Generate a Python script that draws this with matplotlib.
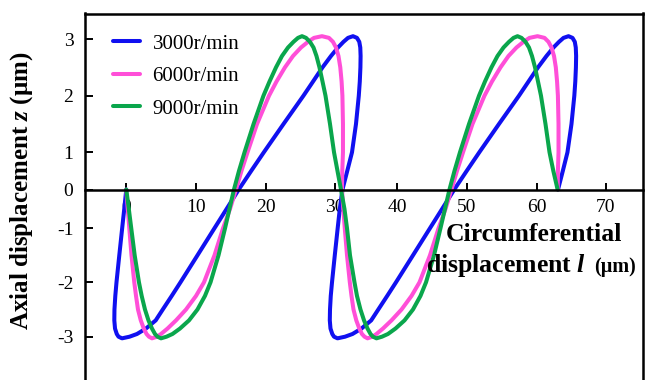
import numpy as np
import matplotlib
matplotlib.use("Agg")
import matplotlib.pyplot as plt

plt.rcParams['font.family'] = ['Liberation Serif', 'DejaVu Serif']
plt.rcParams['mathtext.fontset'] = 'custom'
plt.rcParams['mathtext.it'] = 'Liberation Serif:italic:bold'
plt.rcParams['mathtext.rm'] = 'Liberation Serif:bold'

# axial displacement z (um), shared sampling levels along each path
z_path = [0, -0.5, -1, -1.5, -2, -2.25, -2.5, -2.7, -2.85, -2.95, -3.0, -3.03,
          -3.0, -2.95, -2.85, -2.7, -2.5, -2.25, -2, -1.5, -1, -0.5,
          0, 0.5, 1, 1.5, 2, 2.25, 2.5, 2.7, 2.85, 2.95, 3.02, 3.05,
          3.02, 2.95, 2.85, 2.7, 2.5, 2.25, 2, 1.5, 1, 0.5, 0,
          -0.5, -1, -1.5, -2, -2.25, -2.5, -2.7, -2.85, -2.95, -3.0, -3.03,
          -3.0, -2.95, -2.85, -2.7, -2.5, -2.25, -2, -1.5, -1, -0.5,
          0, 0.5, 1, 1.5, 2, 2.25, 2.5, 2.7, 2.85, 2.95, 3.02, 3.05,
          3.02, 2.95, 2.85, 2.7, 2.5, 2.25, 2, 1.5, 1, 0.5, 0]

# circumferential displacement l (um) for each speed
l_3000 = [0, -0.29, -0.59, -1.0, -1.4, -1.57, -1.69, -1.71, -1.61, -1.36, -1.11, -0.61,
          0.46, 1.53, 2.81, 4.2, 5.21, 6.49, 7.74, 10.17, 12.61, 14.37,
          16.12, 17.91, 19.73, 22.57, 25.45, 26.83, 28.2, 29.42, 30.48, 31.36, 32.09, 32.89,
          33.53, 33.9, 34.06, 34.11, 34.08, 33.98, 33.82, 33.37, 32.73, 31.97, 31.2,
          30.77, 30.43, 29.97, 29.57, 29.39, 29.28, 29.25, 29.35, 29.61, 29.86, 30.4,
          31.61, 32.81, 34.25, 35.81, 36.95, 38.38, 39.79, 42.26, 44.7, 46.46,
          48.21, 50.0, 51.8, 54.61, 57.47, 58.83, 60.19, 61.41, 62.42, 63.22, 63.87, 64.59,
          65.17, 65.5, 65.64, 65.69, 65.66, 65.57, 65.43, 65.02, 64.44, 63.77, 63.08]
l_6000 = [0, 0.21, 0.43, 0.74, 1.14, 1.39, 1.67, 2.07, 2.5, 2.89, 3.24, 3.67,
          4.39, 4.96, 5.89, 7.1, 8.53, 9.96, 11.11, 12.62, 13.85, 14.86,
          15.72, 16.51, 17.38, 18.75, 20.48, 21.56, 22.78, 23.94, 25.09, 26.1, 26.97, 28.12,
          29.13, 29.71, 30.16, 30.56, 30.85, 31.06, 31.19, 31.28, 31.28, 31.17, 31.12,
          31.33, 31.57, 31.93, 32.38, 32.65, 32.97, 33.42, 33.9, 34.33, 34.74, 35.22,
          36.02, 36.66, 37.7, 39.07, 40.61, 42.05, 43.2, 44.71, 45.94, 46.95,
          47.81, 48.6, 49.47, 50.83, 52.54, 53.61, 54.83, 55.97, 57.11, 58.11, 58.97, 60.12,
          61.13, 61.7, 62.14, 62.5, 62.76, 62.94, 63.06, 63.15, 63.15, 63.06, 63.04]
l_9000 = [0, 0.36, 0.71, 1.2, 1.81, 2.2, 2.67, 3.17, 3.67, 4.1, 4.46, 4.96,
          5.74, 6.6, 7.67, 8.96, 10.17, 11.25, 12.05, 13.2, 14.14, 14.78,
          15.43, 16.15, 16.95, 18.25, 19.68, 20.55, 21.49, 22.35, 23.22, 24.01, 24.66, 25.24,
          25.82, 26.39, 26.9, 27.33, 27.76, 28.2, 28.63, 29.28, 29.86, 30.4, 30.96,
          31.52, 31.93, 32.41, 33.13, 33.53, 34.09, 34.66, 35.22, 35.7, 36.1, 36.66,
          37.54, 38.5, 39.71, 41.04, 42.26, 43.34, 44.14, 45.29, 46.22, 46.87,
          47.52, 48.24, 49.03, 50.33, 51.76, 52.61, 53.54, 54.4, 55.26, 56.04, 56.69, 57.26,
          57.83, 58.4, 58.9, 59.33, 59.76, 60.19, 60.62, 61.27, 61.85, 62.4, 63.02]

labels = ['3000r/min', '6000r/min', '9000r/min']
colors = ['#1010f0', '#ff4fd8', '#0aa64c']

x_ticks = [0, 10, 20, 30, 40, 50, 60, 70]
y_ticks = [-3, -2, -1, 0, 1, 2, 3]

# the source axes are not evenly spaced; piecewise linear scales reproduce it
x_knots = [-10, 0, 10, 20, 30, 40, 50, 60, 70, 80]
x_screen = [56.3, 126.3, 196.3, 265.7, 335.0, 397.3, 466.7, 536.7, 606.0, 675.3]
y_knots = [-4, -3, -2, -1, 0, 1, 2, 3, 4]
y_screen = [-391.0, -336.7, -282.3, -228.3, -189.5, -152.3, -95.7, -39.0, 17.7]


def make_map(a, b):
    a = np.asarray(a, float)
    b = np.asarray(b, float)

    def f(v):
        v = np.asarray(v, float)
        out = np.interp(v, a, b)
        out = np.where(v < a[0], b[0] + (v - a[0]) * (b[1] - b[0]) / (a[1] - a[0]), out)
        out = np.where(v > a[-1], b[-1] + (v - a[-1]) * (b[-1] - b[-2]) / (a[-1] - a[-2]), out)
        return out
    return f


W, H = 646, 380
fig = plt.figure(figsize=(W / 100, H / 100), dpi=100)
ax = fig.add_axes([84.5 / W, (H - 391) / H, (643 - 84.5) / W, (391 - 13.5) / H])
ax.set_xscale('function', functions=(make_map(x_knots, x_screen), make_map(x_screen, x_knots)))
ax.set_yscale('function', functions=(make_map(y_knots, y_screen), make_map(y_screen, y_knots)))

for l, lab, c in zip([l_3000, l_6000, l_9000], labels, colors):
    ax.plot(l, z_path, color=c, lw=2.9, label=lab, solid_capstyle='round', solid_joinstyle='round')

ax.set_xlim(-5.97, 75.34)
ax.set_ylim(-4, 3.45)

ax.spines['bottom'].set_position(('data', 0))
for s in ax.spines.values():
    s.set_linewidth(1.8)

ax.set_xticks(x_ticks)
ax.set_xticklabels([str(v) for v in x_ticks])
ax.set_yticks(y_ticks)
ax.set_yticklabels([str(v) for v in y_ticks])
ax.xaxis.set_minor_locator(matplotlib.ticker.NullLocator())
ax.yaxis.set_minor_locator(matplotlib.ticker.NullLocator())
ax.tick_params(axis='x', direction='in', length=5, width=1.4, pad=7, labelsize=14)
ax.tick_params(axis='y', direction='in', length=6, width=1.4, pad=8, labelsize=14)

ax.legend(loc='upper left', bbox_to_anchor=(113 / W, 1 - 34 / H), bbox_transform=fig.transFigure,
          frameon=False, fontsize=15, handlelength=1.3, handletextpad=0.6,
          labelspacing=0.62, borderpad=0, borderaxespad=0)

# axis titles placed as in the source figure
fig.text(534 / W, 1 - 241 / H, 'Circumferential', fontsize=18.5, fontweight='bold',
         ha='center', va='baseline')
fig.text(426 / W, 1 - 272 / H, r'displacement $l$', fontsize=18.5, fontweight='bold',
         ha='left', va='baseline')
fig.text(594 / W, 1 - 272 / H, '(μm)', fontsize=14.5, fontweight='bold',
         ha='left', va='baseline')
fig.text(22 / W, 1 - 191 / H, r'Axial displacement $z$ (μm)', fontsize=18, fontweight='bold',
         rotation=90, ha='center', va='center')

fig.savefig('out.png', dpi=100)
